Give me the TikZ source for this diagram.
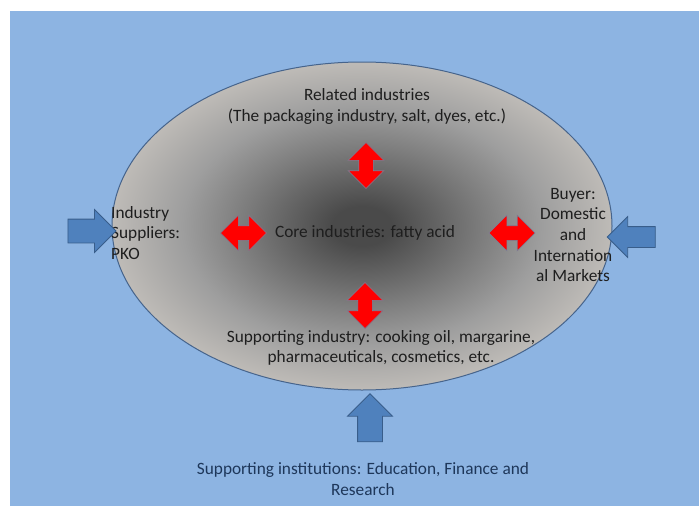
\documentclass[tikz,border=0pt]{standalone}
\usepackage{fontspec}
\setmainfont{Carlito}
\usetikzlibrary{shapes.arrows}
\definecolor{bgblue}{RGB}{141,180,226}
\definecolor{rimblue}{RGB}{70,100,140}
\definecolor{pushblue}{RGB}{79,129,189}
\definecolor{pushedge}{RGB}{56,93,138}
\definecolor{twinedge}{RGB}{120,130,155}
\definecolor{inktext}{RGB}{30,30,30}
\definecolor{inkblue}{RGB}{30,55,90}
\definecolor{coredark}{RGB}{74,74,74}
\definecolor{coremid}{RGB}{125,125,125}
\definecolor{coresoft}{RGB}{158,158,158}
\definecolor{corelight}{RGB}{190,187,183}
\pgfdeclareradialshading{coreglow}{\pgfpoint{0bp}{0bp}}{color(0bp)=(coredark); color(3bp)=(coredark); color(12bp)=(coremid); color(18bp)=(coresoft); color(25bp)=(corelight); color(50bp)=(corelight)}
\tikzset{
	label text/.style={inner sep=0pt, text=inktext, font=\fontsize{17.3}{20.7}\selectfont},
	redtwin/.style={double arrow, fill=red, draw=twinedge, line width=0.6pt, inner xsep=0pt, inner ysep=7pt, minimum height=46pt, double arrow head extend=10.5pt},
	bluepush/.style={single arrow, fill=pushblue, draw=pushedge, line width=0.8pt, inner xsep=0pt, inner ysep=11.5pt, minimum height=48pt, single arrow head extend=9.5pt}
}

\begin{document}
\begin{tikzpicture}[x=1pt, y=-1pt]
			%%%%% START %%%%%
			\useasboundingbox (0, 0) rectangle (699, 506);
			\fill[bgblue] (10, 11) rectangle (699, 506);
			
			\draw[rimblue, line width=1pt, shading=coreglow] (362, 226) ellipse [x radius=250pt, y radius=164pt];
			
			\node[label text] (core) at (365, 233) {Core industries: fatty acid};
			\node[label text, align=center] (related) at (367, 106.5) {Related industries\\(The packaging industry, salt, dyes, etc.)};
			\node[label text, align=center] (supind) at (381, 348) {Supporting industry: cooking oil, margarine,\\pharmaceuticals, cosmetics, etc.};
			\node[label text, align=left, anchor=west] (suppliers) at (111, 233) {Industry\\Suppliers:\\PKO};
			\node[label text, align=center] (buyer) at (573, 235) {Buyer:\\Domestic\\and\\Internation\\al Markets};
			\node[label text, align=center, text=inkblue] (institutions) at (363, 479) {Supporting institutions: Education, Finance and\\Research};
			
			\node[redtwin, rotate=90] (redTop) at (366, 165.5) {};
			\node[redtwin, rotate=90] (redBottom) at (365, 305.5) {};
			\node[redtwin] (redLeft) at (243.5, 233) {};
			\node[redtwin] (redRight) at (512, 233) {};
			
			\node[bluepush] (pushLeft) at (86, 231) {};
			\node[bluepush, rotate=180, inner ysep=10pt, single arrow head extend=10pt] (pushRight) at (636.5, 237) {};
			\node[bluepush, rotate=90, inner ysep=12pt, single arrow head extend=10pt] (pushUp) at (370, 424) {};
			%%%%% END %%%%%
\end{tikzpicture}
\end{document}
